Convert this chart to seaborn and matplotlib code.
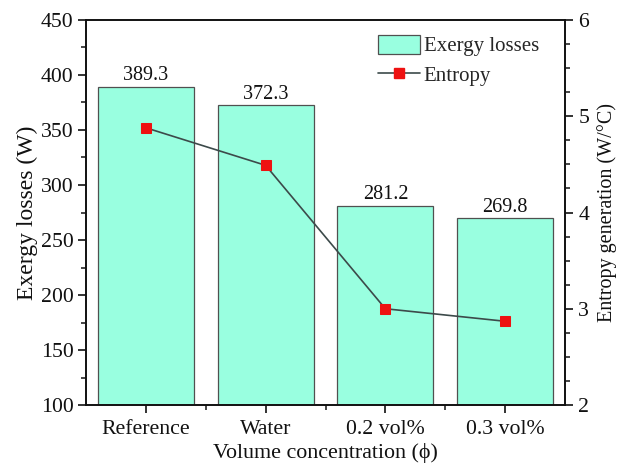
import matplotlib
matplotlib.use("Agg")
import matplotlib.pyplot as plt
import seaborn as sns
import numpy as np
import pandas as pd
from matplotlib.ticker import MultipleLocator, FixedLocator
from matplotlib.patches import Patch
from matplotlib.lines import Line2D

categories = ["Reference", "Water", "0.2 vol%", "0.3 vol%"]
exergy = [389.3, 372.3, 281.2, 269.8]
entropy = [4.88, 4.49, 3.00, 2.87]

sns.set_theme(style="ticks")
plt.rcParams['font.family'] = ['Liberation Serif', 'DejaVu Serif']
plt.rcParams['mathtext.fontset'] = 'stix'

fig = plt.figure(figsize=(6.24, 4.67), dpi=100)
ax = fig.add_axes([86/624, 1 - 405/467, (565-86)/624, (405-20)/467])

df = pd.DataFrame({"cat": categories, "exergy": exergy})
sns.barplot(data=df, x="cat", y="exergy", ax=ax, color="#99FFE0", saturation=1,
            width=0.8, edgecolor="#505050", linewidth=0.9)
ax.set_ylim(100, 450)
ax.set_xlim(-0.5, 3.5)
for i, v in enumerate(exergy):
    ax.text(i, v + 1.5, f"{v:.1f}", ha="center", va="bottom", fontsize=14.5, color="#111111")

ax.yaxis.set_major_locator(MultipleLocator(50))
ax.yaxis.set_minor_locator(MultipleLocator(25))
ax.xaxis.set_minor_locator(FixedLocator([0.5, 1.5, 2.5]))
ax.tick_params(axis="both", which="major", direction="out", length=6, width=1.2,
               labelsize=15.7, colors="#111111")
ax.tick_params(axis="y", which="major", pad=3)
ax.tick_params(axis="x", which="major", pad=5)
ax.tick_params(axis="both", which="minor", direction="out", length=3.5, width=1.2)
ax.set_xlabel("Volume concentration (ϕ)", fontsize=15.8, color="#111111", labelpad=3)
ax.set_ylabel("Exergy losses (W)", fontsize=17, color="#111111", labelpad=2)
for s in ax.spines.values():
    s.set_linewidth(1.2)
    s.set_color("#111111")

ax2 = ax.twinx()
sns.lineplot(x=np.arange(len(categories)), y=entropy, ax=ax2, color="#3c4a4a",
             linewidth=1.2, marker="s", markersize=7, markerfacecolor="#ee1111",
             markeredgecolor="#ee1111")
ax2.set_ylim(2, 6)
ax2.yaxis.set_major_locator(MultipleLocator(1))
ax2.yaxis.set_minor_locator(MultipleLocator(0.25))
ax2.tick_params(axis="y", which="major", direction="out", length=6, width=1.2,
                labelsize=15.7, colors="#111111")
ax2.tick_params(axis="y", which="minor", direction="out", length=3.5, width=1.2)
ax2.set_ylabel("Entropy generation (W/°C)", fontsize=14.5, color="#111111", labelpad=6)
for s in ax2.spines.values():
    s.set_linewidth(1.2)
    s.set_color("#111111")

handles = [Patch(facecolor="#99FFE0", edgecolor="#505050", linewidth=0.9),
           Line2D([0], [0], color="#3c4a4a", linewidth=1.2, marker="s", markersize=7,
                  markerfacecolor="#ee1111", markeredgecolor="#ee1111")]
ax2.legend(handles, ["Exergy losses", "Entropy"], loc="upper right",
           bbox_to_anchor=(0.985, 1.01), frameon=False, fontsize=15,
           handlelength=2.0, handleheight=1.0, handletextpad=0.2, labelspacing=0.4)

fig.savefig("out.png", dpi=100)
